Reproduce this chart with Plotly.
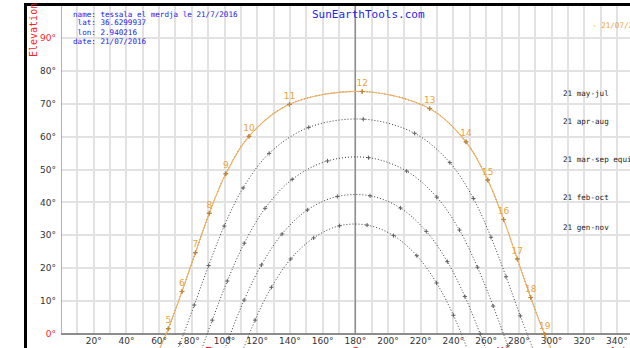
import plotly.graph_objects as go

# ---- sun path data: azimuth (deg from N) / elevation (deg) at each whole hour ----
jul_hours = list(range(4, 21))
jul_az = [56.2, 65.6, 74.0, 82.2, 90.7, 100.8, 115.0, 139.7, 184.2, 225.5, 247.7,
          261.0, 270.7, 279.1, 287.3, 295.8, 305.4]
jul_el = [-8.9, 1.6, 12.9, 24.7, 36.7, 48.7, 60.1, 69.8, 73.7, 68.5, 58.4,
          46.8, 34.8, 22.8, 11.1, -0.1, -10.5]

aug_az = [63.0, 72.7, 81.5, 90.3, 99.8, 111.4, 127.3, 151.5, 184.9, 216.3, 237.8,
          252.2, 263.0, 272.2, 280.9, 289.9]
aug_el = [-14.1, -2.9, 8.8, 20.8, 32.8, 44.4, 54.9, 62.8, 65.3, 61.0, 52.1,
          41.2, 29.4, 17.4, 5.5, -6.1]

sep_az = [73.9, 83.5, 92.5, 101.7, 112.1, 124.8, 141.4, 163.0, 188.1, 211.4, 229.8,
          243.7, 254.7, 264.3, 273.3, 282.5]
sep_el = [-19.7, -7.9, 4.2, 16.1, 27.6, 38.2, 47.0, 52.6, 53.6, 49.5, 41.6,
          31.6, 20.3, 8.5, -3.6, -15.5]

oct_az = [94.0, 102.7, 112.0, 122.6, 135.2, 150.7, 169.0, 189.0, 207.6, 223.4,
          236.3, 247.0, 256.4, 265.1]
oct_el = [-13.1, -1.2, 10.3, 21.0, 30.4, 37.7, 41.8, 42.0, 38.3, 31.2,
          22.0, 11.4, 0.0, -11.9]

nov_az = [109.8, 118.7, 128.7, 140.5, 154.5, 170.4, 187.2, 203.4, 217.6, 229.7,
          240.0, 249.0]
nov_el = [-6.8, 4.2, 14.2, 22.8, 29.2, 32.9, 33.1, 29.9, 23.8, 15.5, 5.7, -5.2]

season_names = ["21 may-jul", "21 apr-aug", "21 mar-sep equinox", "21 feb-oct", "21 gen-nov"]

x_tick_vals = list(range(10, 350, 10))
x_tick_text = [f"{v}°" if v % 20 == 0 else "" for v in x_tick_vals]
y_tick_vals = list(range(0, 100, 10))
y_tick_text = [f"{v}°" for v in y_tick_vals]

info_lines = ["name: tessala el merdja le 21/7/2016", " lat: 36.6299937",
              " lon: 2.940216", "date: 21/07/2016"]
site_title = "SunEarthTools.com"
day_label = "- 21/07/2016"
compass = [("E", 90), ("S", 180), ("W", 270)]

# ---- page geometry ----
W, H = 630, 348
ML, MT = 61, 6
PW, PH = W - ML, H - MT
AZ_RANGE = [0, 348]
EL_RANGE = [-4.26, 99.7]


def px(x):
    return (x - ML) / PW


def py(y):
    return (H - y) / PH


ORANGE = "#f3b25e"
ORANGE_TXT = "#f0a238"
GRID = "#e2e2e2"
DOT = "#3c3c3c"
BLUE = "#2424e6"
RED = "#ff2020"
MONO = "DejaVu Sans Mono"
SANS = "DejaVu Sans"

fig = go.Figure()

# seasonal reference paths (dotted, with hour ticks)
for az, el in [(jul_az, jul_el), (aug_az, aug_el), (sep_az, sep_el),
               (oct_az, oct_el), (nov_az, nov_el)]:
    fig.add_trace(go.Scatter(
        x=az, y=el, mode="lines+markers",
        line=dict(color=DOT, width=1, dash="1px,2px", shape="spline", smoothing=1.0),
        marker=dict(symbol="cross-thin", size=3, line=dict(color="#606060", width=1)),
        hoverinfo="skip"))

# path of the selected day
hour_text = [str(h) if 5 <= h <= 19 else "" for h in jul_hours]
fig.add_trace(go.Scatter(
    x=jul_az, y=jul_el, mode="lines+markers+text",
    line=dict(color=ORANGE, width=1.1, shape="spline", smoothing=1.0),
    marker=dict(symbol="cross-thin", size=3.5, line=dict(color="#c98428", width=1)),
    text=hour_text, textposition="top center",
    textfont=dict(family=SANS, size=9, color=ORANGE_TXT),
    hoverinfo="skip"))

shapes = []
white = dict(type="rect", fillcolor="white", line=dict(width=0), layer="between")
# hide grid below the horizon line
shapes.append(dict(white, xref="x", yref="y", x0=AZ_RANGE[0], x1=AZ_RANGE[1],
                   y0=EL_RANGE[0], y1=0))
# boxes behind the header texts
shapes.append(dict(white, xref="paper", yref="paper", x0=px(62), x1=px(150), y0=py(72), y1=py(6)))
shapes.append(dict(white, xref="paper", yref="paper", x0=px(150), x1=px(427), y0=py(20), y1=py(6)))
shapes.append(dict(white, xref="paper", yref="paper", x0=px(587), x1=px(630), y0=py(42), y1=py(6)))
# south meridian and axis lines
shapes.append(dict(type="line", xref="x", yref="y", x0=180, x1=180, y0=0, y1=EL_RANGE[1],
                   line=dict(color="#8e8e8e", width=1.5), layer="between"))
shapes.append(dict(type="line", xref="x", yref="y", x0=0, x1=0, y0=0, y1=EL_RANGE[1],
                   line=dict(color="#9a9a9a", width=1.5), layer="between"))
shapes.append(dict(type="line", xref="x", yref="y", x0=0, x1=AZ_RANGE[1], y0=0, y1=0,
                   line=dict(color="#8c8c8c", width=2), layer="between"))
# outer black frame
shapes.append(dict(type="rect", xref="paper", yref="paper", x0=px(24), x1=px(632),
                   y0=py(3), y1=py(6), fillcolor="black", line=dict(width=0), layer="above"))
shapes.append(dict(type="rect", xref="paper", yref="paper", x0=px(24), x1=px(27),
                   y0=py(350), y1=py(3), fillcolor="black", line=dict(width=0), layer="above"))

ann = []
for i, line in enumerate(info_lines):
    ann.append(dict(xref="paper", yref="paper", x=px(71), y=py(14 + 9 * i),
                    xanchor="left", yanchor="middle", text=line.replace(" ", "&nbsp;"),
                    showarrow=False, font=dict(family=MONO, size=7.6, color=BLUE)))
ann.append(dict(xref="paper", yref="paper", x=px(310), y=py(15), xanchor="left",
                yanchor="middle", text=site_title, showarrow=False,
                font=dict(family=MONO, size=11, color=BLUE)))
ann.append(dict(xref="paper", yref="paper", x=px(590), y=py(25), xanchor="left",
                yanchor="middle", text=day_label, showarrow=False,
                font=dict(family=MONO, size=7.6, color=ORANGE_TXT)))
# season labels beside the peak of each path
for name, el in zip(season_names, [jul_el, aug_el, sep_el, oct_el, nov_el]):
    ann.append(dict(xref="paper", yref="y", x=px(561), y=max(el), yshift=-2,
                    xanchor="left", yanchor="middle", text=name, showarrow=False,
                    font=dict(family=MONO, size=7.6, color="#222222")))
# axis titles and compass points
ann.append(dict(xref="paper", yref="paper", x=px(33), y=py(30), text="Elevation",
                textangle=-90, showarrow=False, xanchor="center", yanchor="middle",
                font=dict(family=MONO, size=10, color=RED)))
for letter, az in compass:
    ann.append(dict(xref="x", yref="paper", x=az, y=py(343), text=letter, showarrow=False,
                    xanchor="center", yanchor="top", font=dict(family=SANS, size=11, color=RED)))
ann.append(dict(xref="paper", yref="paper", x=px(607), y=py(343), text="Azimuth",
                showarrow=False, xanchor="left", yanchor="top",
                font=dict(family=SANS, size=11, color=RED)))

fig.update_layout(
    width=W, height=H,
    margin=dict(l=ML, r=0, t=MT, b=0, pad=0),
    paper_bgcolor="white", plot_bgcolor="white",
    showlegend=False,
    shapes=shapes, annotations=ann,
    xaxis=dict(range=AZ_RANGE, tickvals=x_tick_vals, ticktext=x_tick_text,
               showgrid=True, gridcolor=GRID, gridwidth=2, zeroline=False,
               showline=False, ticks="", anchor="free", position=py(334),
               automargin=False, fixedrange=True,
               tickfont=dict(family=SANS, size=9, color="#333333")),
    yaxis=dict(range=EL_RANGE, tickvals=y_tick_vals, ticktext=y_tick_text,
               showgrid=True, gridcolor=GRID, gridwidth=2, zeroline=False,
               showline=False, ticks="", automargin=False, fixedrange=True,
               ticklabelstandoff=4,
               tickfont=dict(family=SANS, size=9, color="#333333")),
)

# red end-of-scale labels
fig.layout.yaxis.ticktext = tuple(
    f"<span style='color:{RED}'>{t}</span>" if v in (0, 90) else t
    for v, t in zip(y_tick_vals, y_tick_text))

fig.write_html("out.html")
